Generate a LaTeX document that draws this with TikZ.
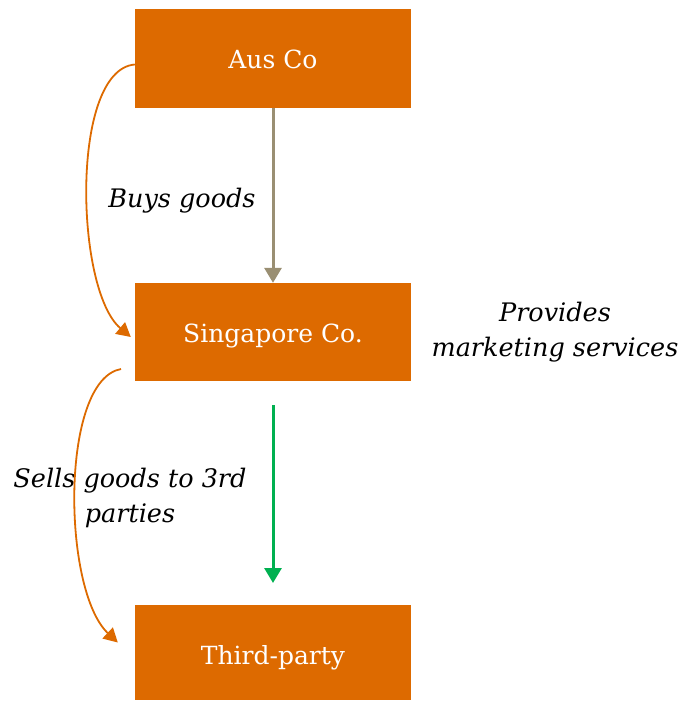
\documentclass[tikz,border=0pt]{standalone}
\usepackage{fontspec}
\setmainfont{DejaVu Serif}
\usetikzlibrary{arrows.meta}
\usetikzlibrary{positioning}
\definecolor{boxorange}{HTML}{DD6A00}
\definecolor{flowgrey}{HTML}{9A8F73}
\definecolor{flowgreen}{HTML}{00B050}
\begin{document}
\begin{tikzpicture}[x=1pt,y=-1pt,>={Triangle[length=15pt,width=17pt]}]
			\tikzset{entity/.style = {shape=rectangle, fill=boxorange, text=white, minimum width=276pt, minimum height=98pt, inner sep=0pt, text height=21pt, text depth=0pt, font=\fontsize{25}{30}\selectfont}}
			\tikzset{remark/.style = {align=center, font=\fontsize{25.5}{35}\selectfont\itshape}}
			\tikzset{loop/.style = {draw=boxorange, line width=1.8pt, ->, >={Triangle[length=14pt,width=15pt]}}}
			\useasboundingbox (0,0) rectangle (685,701);
			
			\node[entity] (AUS) at (273,58.5) {Aus Co};
			\node[entity] (SING) at (273,332) {Singapore Co.};
			\node[entity, minimum height=95pt, text height=23pt] (THIRD) at (273,652.5) {Third-party};
			
			\node[remark] (BUYS) at (182,201) {Buys goods};
			\node[remark] (SELLS) at (130,497.5) {Sells goods to 3rd\\parties};
			\node[remark] (MKTG) at (555,332) {Provides\\marketing services};
			
			\coordinate (SELLSTART) at (121,369);
			\coordinate (GREENTOP) at (273,405);
			\coordinate (GREENEND) at (273,583);
			
			\draw[draw=flowgrey, fill=flowgrey, line width=3pt, ->] (AUS.south) -- (SING.north);
			\draw[draw=flowgreen, fill=flowgreen, line width=3pt, ->] (GREENTOP) -- (GREENEND);
			\draw[loop] ([yshift=-6pt]AUS.west) .. controls (70,70) and (75,290) .. ([xshift=-4pt,yshift=-5pt]SING.west);
			\draw[loop] (SELLSTART) .. controls (60,380) and (62,590) .. ([xshift=-17pt,yshift=10pt]THIRD.west);
			
			\end{tikzpicture}
\end{document}
